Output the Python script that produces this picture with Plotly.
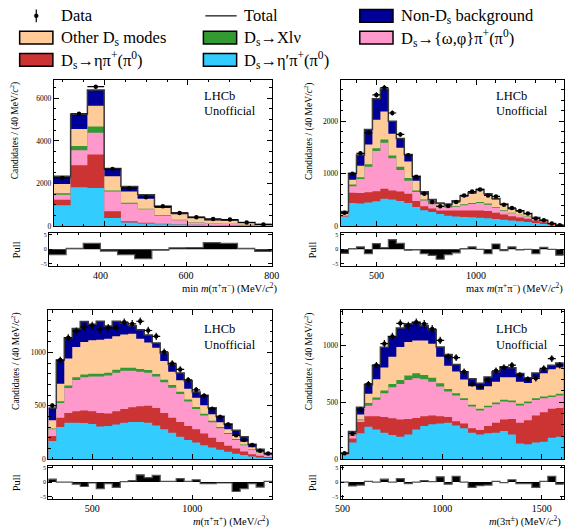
import numpy as np
import plotly.graph_objects as go

W, H = 574, 530
FONT = "Liberation Serif, Times New Roman, serif"
BIN_W = 40  # MeV per bin

# ---------------- Panel 1 : min m(pi+pi-) ----------------
p1_lo = 280
p1_data = [2258, 5275, 6544, 2676, 1779, 1350, 928, 619, 418, 340, 309, 170, 77]
p1_pull = [-1.8, 0.3, 2.0, -0.6, -1.8, -3.2, -0.3, 0.5, 0.6, 2.3, 2.0, 0.3, -0.7]
# stacked heights as drawn (bottom component first)
p1_etap  = [975, 1825, 1795, 387, 170, 124, 93, 78, 60, 50, 40, 30, 10]
p1_eta   = [1238, 2862, 3357, 696, 232, 155, 108, 90, 70, 55, 45, 33, 12]
p1_omphi = [1470, 3558, 4378, 1624, 1052, 789, 480, 278, 170, 139, 108, 60, 20]
p1_xlnu  = [1547, 3759, 4672, 1671, 1098, 820, 510, 294, 180, 145, 112, 63, 22]
p1_other = [1980, 4564, 5647, 2336, 1624, 1284, 851, 557, 387, 270, 245, 155, 77]
p1_nonds = [2344, 5253, 6385, 2707, 1855, 1470, 937, 607, 405, 300, 275, 166, 83]

# ---------------- Panel 2 : max m(pi+pi-) ----------------
p2_lo = 320
p2_data = [255, 1000, 1390, 1780, 2504, 2642, 2159, 1750, 1353, 943, 617, 460, 378, 385,
           460, 585, 660, 700, 585, 566, 409, 347, 290, 240, 145, 113, 50, 15]
p2_pull = [-1.4, 0.2, 0.8, -1.5, 1.9, 0.6, 3.3, 2.0, -0.3, -0.2, -1.5, -2.1, -3.4, -1.8,
           -1.2, 0.2, 0.8, 0.0, -1.5, 1.8, -0.5, 0.8, -0.2, 0.0, -1.5, 0.7, 0.0, -2.0]
p2_etap  = [177, 441, 430, 453, 475, 522, 510, 478, 441, 365, 302, 271, 230, 200,
            185, 175, 168, 160, 150, 135, 120, 105, 92, 78, 60, 42, 22, 10]
p2_eta   = [189, 636, 630, 648, 667, 711, 680, 661, 616, 478, 378, 334, 300, 300,
            300, 300, 300, 300, 290, 255, 220, 190, 165, 140, 105, 75, 38, 17]
p2_omphi = [200, 762, 900, 1132, 1434, 1593, 1296, 1070, 868, 649, 491, 415, 378, 350,
            370, 400, 420, 440, 410, 350, 290, 245, 210, 175, 128, 88, 44, 20]
p2_xlnu  = [205, 792, 932, 1183, 1484, 1655, 1347, 1133, 919, 680, 508, 441, 390, 362,
            383, 415, 440, 462, 430, 365, 302, 255, 218, 182, 133, 91, 46, 21]
p2_other = [230, 887, 1151, 1560, 2032, 2189, 1762, 1498, 1234, 868, 617, 491, 428, 405,
            465, 560, 620, 680, 600, 510, 408, 325, 288, 236, 160, 104, 49, 22]
p2_nonds = [278, 1008, 1358, 1845, 2429, 2615, 2000, 1670, 1365, 950, 655, 508, 441, 420,
            485, 580, 640, 700, 620, 525, 420, 332, 293, 240, 163, 106, 50, 23]

# ---------------- Panel 3 : m(pi+pi+) ----------------
p3_lo = 280
p3_data = [502, 929, 1139, 1201, 1238, 1254, 1217, 1232, 1232, 1285, 1269, 1294, 1207, 1152,
           1006, 898, 842, 743, 650, 594, 471, 396, 325, 223, 180, 133, 77, 53]
p3_pull = [1.0, 0.0, 0.0, -0.7, -1.5, -0.3, -2.2, -0.5, -1.8, 0.2, 0.5, 2.5, 1.5, 2.3,
           0.3, 0.3, 1.2, 0.3, 0.8, -0.5, -0.5, -0.3, -0.3, -3.2, -2.2, -0.5, -1.7, 0.3]
p3_etap  = [170, 300, 340, 340, 338, 330, 305, 310, 325, 340, 347, 347, 340, 316,
            279, 248, 210, 180, 155, 130, 108, 87, 68, 50, 37, 25, 15, 9]
p3_eta   = [217, 387, 433, 449, 455, 449, 433, 427, 449, 470, 486, 495, 501, 480,
            433, 387, 347, 310, 279, 241, 201, 161, 124, 100, 70, 46, 31, 19]
p3_omphi = [279, 526, 666, 743, 768, 774, 774, 784, 811, 830, 830, 820, 811, 774,
            720, 670, 610, 540, 470, 410, 345, 290, 235, 180, 130, 90, 58, 35]
p3_xlnu  = [288, 542, 690, 768, 793, 800, 800, 810, 838, 858, 858, 846, 836, 798,
            745, 695, 632, 560, 488, 426, 359, 302, 245, 188, 136, 95, 62, 38]
p3_other = [365, 706, 944, 1053, 1099, 1115, 1121, 1130, 1152, 1170, 1176, 1130, 1095, 1045,
            920, 820, 740, 660, 575, 505, 420, 345, 280, 220, 162, 110, 72, 40]
p3_nonds = [480, 929, 1139, 1225, 1291, 1265, 1294, 1250, 1295, 1278, 1251, 1215, 1165, 1090,
            996, 889, 807, 735, 630, 600, 482, 402, 330, 271, 210, 139, 92, 51]

# ---------------- Panel 4 : m(3pi) ----------------
p4_lo = 490
p4_data = [52, 223, 435, 661, 826, 1015, 1078, 1194, 1174, 1203, 1189, 1145, 1044, 899,
           893, 768, 661, 638, 696, 777, 806, 826, 739, 702, 710, 797, 884, 826]
p4_pull = [0.0, -1.3, -1.0, 0.3, 0.0, 1.0, 0.0, 1.2, -0.5, 0.0, 0.5, 0.2, 1.8, -0.7,
           2.0, 0.0, -1.8, -1.2, -1.0, 0.3, -0.2, 0.8, -0.5, -0.5, -1.8, 0.3, 2.0, -0.7]
p4_etap  = [35, 145, 226, 284, 261, 232, 212, 197, 217, 261, 290, 307, 313, 319,
            296, 270, 232, 217, 226, 232, 246, 217, 136, 130, 145, 153, 188, 197]
p4_eta   = [40, 180, 325, 377, 377, 371, 359, 348, 353, 362, 377, 383, 377, 371,
            333, 313, 270, 255, 290, 319, 348, 353, 319, 342, 383, 411, 443, 449]
p4_omphi = [42, 203, 342, 470, 522, 580, 632, 661, 696, 710, 702, 681, 638, 594,
            560, 520, 462, 428, 455, 483, 507, 500, 472, 492, 520, 535, 545, 560]
p4_xlnu  = [43, 209, 348, 493, 542, 603, 661, 696, 736, 754, 739, 716, 667, 617,
            580, 536, 478, 443, 470, 498, 522, 516, 487, 507, 536, 550, 560, 575]
p4_other = [48, 232, 391, 574, 702, 806, 899, 986, 1029, 1044, 1044, 1015, 899, 820,
            770, 700, 640, 610, 640, 680, 720, 720, 680, 670, 715, 755, 790, 805]
p4_nonds = [52, 243, 456, 653, 826, 983, 1078, 1153, 1191, 1203, 1172, 1138, 986, 920,
            833, 768, 707, 668, 722, 769, 812, 803, 753, 715, 758, 789, 825, 846]

# ---------------- legend / colours ----------------
comp_names = ["Non-D<sub>s</sub> background", "Other D<sub>s</sub> modes",
              "D<sub>s</sub>→Xlν", "D<sub>s</sub>→{ω,φ}π<sup>+</sup>(π<sup>0</sup>)",
              "D<sub>s</sub>→ηπ<sup>+</sup>(π<sup>0</sup>)", "D<sub>s</sub>→η′π<sup>+</sup>(π<sup>0</sup>)"]
comp_colors = ["#000099", "#ffcc99", "#339933", "#ff99cc", "#cc3333", "#33ccff"]
TOTAL_COLOR = "#3a3a3a"

x_titles = ["min <i>m</i>(π<sup>+</sup>π<sup>−</sup>) (MeV/<i>c</i><sup>2</sup>)",
            "max <i>m</i>(π<sup>+</sup>π<sup>−</sup>) (MeV/<i>c</i><sup>2</sup>)",
            "<i>m</i>(π<sup>+</sup>π<sup>+</sup>) (MeV/<i>c</i><sup>2</sup>)",
            "<i>m</i>(3π<sup>±</sup>) (MeV/<i>c</i><sup>2</sup>)"]
y_title = "Candidates / (40 MeV/<i>c</i><sup>2</sup>)"


def PX(x):
    return x / W


def PY(y):
    return 1 - y / H


panels = [
    dict(lo=p1_lo, data=p1_data, pull=p1_pull,
         stack=[p1_nonds, p1_other, p1_xlnu, p1_omphi, p1_eta, p1_etap],
         xr=[280, 800], ymax=6877, ydt=2000, ymin=500, xdt=200, xmin=50,
         mx=(50, 273), px=(45, 273), my=(79.5, 227.7), pyy=(234.5, 268.5),
         xtitle_r=280, xtitle_y=290, ytitle_x=10, pull_x=12, lhcb=(202.7, 95.7)),
    dict(lo=p2_lo, data=p2_data, pull=p2_pull,
         stack=[p2_nonds, p2_other, p2_xlnu, p2_omphi, p2_eta, p2_etap],
         xr=[320, 1440], ymax=2787, ydt=1000, ymin=200, xdt=500, xmin=100,
         mx=(343.3, 571.7), px=(343.3, 571.7), my=(80, 227.7), pyy=(234.5, 268.5),
         xtitle_r=572.5, xtitle_y=290, ytitle_x=310, pull_x=315, lhcb=(501.7, 95.7)),
    dict(lo=p3_lo, data=p3_data, pull=p3_pull,
         stack=[p3_nonds, p3_other, p3_xlnu, p3_omphi, p3_eta, p3_etap],
         xr=[280, 1400], ymax=1398, ydt=500, ymin=100, xdt=500, xmin=100,
         mx=(44.3, 273.3), px=(44.3, 273.3), my=(312.7, 463.3), pyy=(470, 504),
         xtitle_r=273.5, xtitle_y=525.5, ytitle_x=10, pull_x=12, lhcb=(202.7, 331.7)),
    dict(lo=p4_lo, data=p4_data, pull=p4_pull,
         stack=[p4_nonds, p4_other, p4_xlnu, p4_omphi, p4_eta, p4_etap],
         xr=[490, 1610], ymax=1310, ydt=500, ymin=100, xdt=500, xmin=100,
         mx=(343.3, 571.7), px=(343.3, 571.7), my=(312.7, 463.3), pyy=(470, 504),
         xtitle_r=570.5, xtitle_y=525.5, ytitle_x=310, pull_x=315, lhcb=(501.7, 331.7)),
]

PULL_RANGE = [-5.85, 5.6]

fig = go.Figure()
layout = {}
annotations = []
shapes = []


def base_axis():
    return dict(showline=True, linecolor="black", linewidth=1, mirror="allticks",
                ticks="inside", tickcolor="black", tickwidth=1, showgrid=False,
                zeroline=False, fixedrange=True)


for i, P in enumerate(panels):
    mi, pi_ = 2 * i + 1, 2 * i + 2
    xm = "x" if mi == 1 else f"x{mi}"
    ym = "y" if mi == 1 else f"y{mi}"
    xp, yp = f"x{pi_}", f"y{pi_}"
    xm_key = "xaxis" if mi == 1 else f"xaxis{mi}"
    ym_key = "yaxis" if mi == 1 else f"yaxis{mi}"

    n = len(P["data"])
    edges = P["lo"] + BIN_W * np.arange(n + 1)
    centers = P["lo"] + BIN_W * (np.arange(n) + 0.5)

    # stacked components, drawn as cumulative step fills (top first)
    for vals, col in zip(P["stack"], comp_colors):
        fig.add_trace(go.Scatter(x=edges, y=list(vals) + [vals[-1]], mode="lines",
                                 line=dict(width=0, shape="hv", color=col), fill="tozeroy",
                                 fillcolor=col, xaxis=xm, yaxis=ym, showlegend=False,
                                 hoverinfo="skip"))
    # total outline
    tot = P["stack"][0]
    fig.add_trace(go.Scatter(x=edges, y=list(tot) + [tot[-1]], mode="lines",
                             line=dict(width=1.5, shape="hv", color=TOTAL_COLOR),
                             xaxis=xm, yaxis=ym, showlegend=False, hoverinfo="skip"))
    # data points
    d = np.array(P["data"], dtype=float)
    fig.add_trace(go.Scatter(x=centers, y=d, mode="markers",
                             marker=dict(color="black", size=4.5),
                             error_y=dict(type="data", array=np.sqrt(d), color="black",
                                          thickness=1.2, width=0),
                             error_x=dict(type="constant", value=BIN_W / 2, color="black",
                                          thickness=1.2, width=0),
                             xaxis=xm, yaxis=ym, showlegend=False))
    # pulls
    pu = list(P["pull"])
    fig.add_trace(go.Scatter(x=edges, y=pu + [pu[-1]], mode="lines",
                             line=dict(width=1.2, shape="hv", color="#555555"),
                             fill="tozeroy", fillcolor="black",
                             xaxis=xp, yaxis=yp, showlegend=False, hoverinfo="skip"))

    # axes
    ax = base_axis()
    ax.update(domain=[PX(P["mx"][0]), PX(P["mx"][1])], range=P["xr"], anchor=ym,
              tick0=0, dtick=P["xdt"], ticklen=5, showticklabels=False,
              minor=dict(dtick=P["xmin"], ticks="inside", ticklen=2.5, tickcolor="black",
                         showgrid=False))
    layout[xm_key] = ax
    ay = base_axis()
    ay.update(domain=[PY(P["my"][1]), PY(P["my"][0])], range=[0, P["ymax"]], anchor=xm,
              tick0=0, dtick=P["ydt"], ticklen=5,
              tickfont=dict(family=FONT, size=7.5, color="black"),
              minor=dict(dtick=P["ymin"], ticks="inside", ticklen=2.5, tickcolor="black",
                         showgrid=False))
    layout[ym_key] = ay
    pxa = base_axis()
    pxa.update(domain=[PX(P["px"][0]), PX(P["px"][1])], range=P["xr"], anchor=yp,
               tick0=0, dtick=P["xdt"], ticklen=4,
               tickfont=dict(family=FONT, size=10, color="black"),
               minor=dict(dtick=P["xmin"], ticks="inside", ticklen=2, tickcolor="black",
                          showgrid=False))
    layout[f"xaxis{pi_}"] = pxa
    pya = base_axis()
    pya.update(domain=[PY(P["pyy"][1]), PY(P["pyy"][0])], range=PULL_RANGE, anchor=xp,
               tickvals=[-5, 0, 5], ticklen=3.5,
               tickfont=dict(family=FONT, size=6, color="black"))
    layout[f"yaxis{pi_}"] = pya

    # texts
    annotations.append(dict(x=PX(P["xtitle_r"]), y=PY(P["xtitle_y"]), xref="paper", yref="paper",
                            text=x_titles[i], showarrow=False, xanchor="right", yanchor="middle",
                            font=dict(family=FONT, size=10.5, color="black")))
    annotations.append(dict(x=PX(P["ytitle_x"]), y=PY(P["my"][0]), xref="paper", yref="paper",
                            text=y_title, textangle=-90, showarrow=False, xanchor="center",
                            yanchor="top", font=dict(family=FONT, size=9.5, color="black")))
    annotations.append(dict(x=PX(P["pull_x"]), y=PY((P["pyy"][0] + P["pyy"][1]) / 2),
                            xref="paper", yref="paper", text="Pull", textangle=-90,
                            showarrow=False, xanchor="center", yanchor="middle",
                            font=dict(family=FONT, size=10.5, color="black")))
    lx, ly = P["lhcb"]
    annotations.append(dict(x=PX(lx - 1), y=PY(ly), xref="paper", yref="paper", text="LHCb",
                            showarrow=False, xanchor="left", yanchor="middle",
                            font=dict(family=FONT, size=12.5, color="black")))
    annotations.append(dict(x=PX(lx - 1), y=PY(ly + 16), xref="paper", yref="paper",
                            text="Unofficial", showarrow=False, xanchor="left",
                            yanchor="middle", font=dict(family=FONT, size=12.5, color="black")))

# ---------------- legend (drawn manually, 3 columns) ----------------
col_box_x = [15, 203, 363]
col_txt_x = [55, 243, 403]
row_y = [15, 37, 59.5]
BOX_W, BOX_H = 34, 13
leg_font = dict(family=FONT, size=16.5, color="black")

# row 1: Data, Total, Non-Ds background
shapes.append(dict(type="line", xref="paper", yref="paper", x0=PX(32), x1=PX(32),
                   y0=PY(row_y[0] - 6.5), y1=PY(row_y[0] + 6.5),
                   line=dict(color="black", width=1.2)))
shapes.append(dict(type="circle", xref="paper", yref="paper", x0=PX(30), x1=PX(34),
                   y0=PY(row_y[0] - 2), y1=PY(row_y[0] + 2), fillcolor="black",
                   line=dict(color="black", width=0.5)))
annotations.append(dict(x=PX(col_txt_x[0]), y=PY(row_y[0]), xref="paper", yref="paper",
                        text="Data", showarrow=False, xanchor="left", yanchor="middle",
                        font=leg_font))
shapes.append(dict(type="line", xref="paper", yref="paper", x0=PX(205), x1=PX(237),
                   y0=PY(row_y[0]), y1=PY(row_y[0]), line=dict(color=TOTAL_COLOR, width=1.5)))
annotations.append(dict(x=PX(col_txt_x[1]), y=PY(row_y[0]), xref="paper", yref="paper",
                        text="Total", showarrow=False, xanchor="left", yanchor="middle",
                        font=leg_font))

legend_slots = [(2, 0), (0, 1), (1, 1), (2, 1), (0, 2), (1, 2)]  # (col, row) per component
for name, col, (c, r) in zip(comp_names, comp_colors, legend_slots):
    shapes.append(dict(type="rect", xref="paper", yref="paper",
                       x0=PX(col_box_x[c]), x1=PX(col_box_x[c] + BOX_W),
                       y0=PY(row_y[r] - BOX_H / 2), y1=PY(row_y[r] + BOX_H / 2),
                       fillcolor=col, line=dict(color="black", width=1.5)))
    annotations.append(dict(x=PX(col_txt_x[c]), y=PY(row_y[r]), xref="paper", yref="paper",
                            text=name, showarrow=False, xanchor="left", yanchor="middle",
                            font=leg_font))

fig.update_layout(width=W, height=H, margin=dict(l=0, r=0, t=0, b=0),
                  paper_bgcolor="white", plot_bgcolor="white", showlegend=False,
                  font=dict(family=FONT, color="black"),
                  annotations=annotations, shapes=shapes, **layout)

fig.write_html("out.html")
